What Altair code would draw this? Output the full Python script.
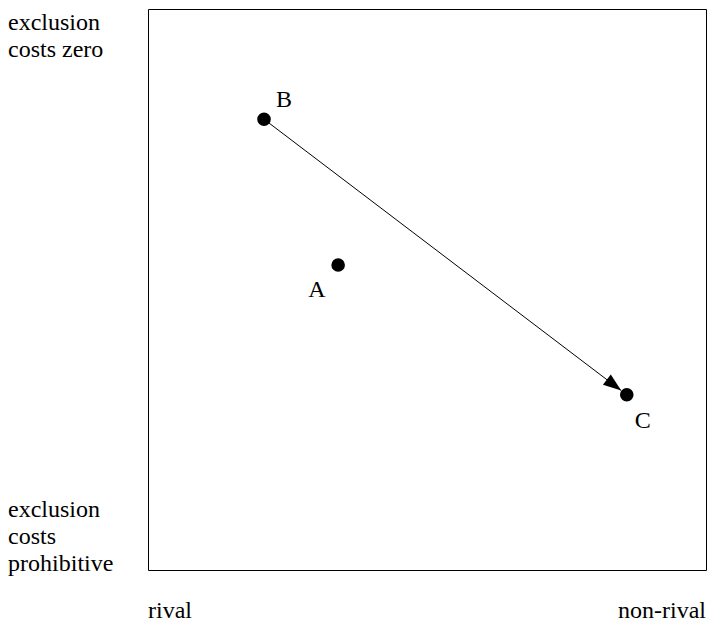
import math
import altair as alt
import pandas as pd

# ---- data (chart units: rivalry 0..10 left->right, excludability 0..10 bottom->top)
point_names = ["A", "B", "C"]
point_rivalry = [3.36, 2.05, 8.46]
point_exclusion = [5.38, 7.95, 3.09]

arrow_from = "B"
arrow_to = "C"

left_labels = ["exclusion\ncosts zero", "exclusion\ncosts\nprohibitive"]
left_label_y = [9.53, 0.93]
bottom_labels = ["rival", "non-rival"]

# ---- layout / style
W, H_PLOT = 558, 561
X_MAX, Y_MAX = 9.86, 9.894
PX_X, PX_Y = W / X_MAX, H_PLOT / Y_MAX
FONT = "Liberation Serif"
FS = 24
label_offsets = {"A": (-30, 32), "B": (12, -12), "C": (8, 33)}

pts = pd.DataFrame({"name": point_names, "x": point_rivalry, "y": point_exclusion})

xs = alt.Scale(domain=[0, X_MAX], nice=False, zero=False)
ys = alt.Scale(domain=[0, Y_MAX], nice=False, zero=False)

def X(field="x"):
    return alt.X(f"{field}:Q", scale=xs, axis=None)

def Y(field="y"):
    return alt.Y(f"{field}:Q", scale=ys, axis=None)

# arrow from B to C, ending at circle edge
i0, i1 = point_names.index(arrow_from), point_names.index(arrow_to)
x0, y0 = point_rivalry[i0], point_exclusion[i0]
x1, y1 = point_rivalry[i1], point_exclusion[i1]
dxp, dyp = (x1 - x0) * PX_X, -(y1 - y0) * PX_Y
L = math.hypot(dxp, dyp)
r = 7.0
tx = x1 - (dxp / L) * r / PX_X
ty = y1 + (dyp / L) * r / PX_Y
ang = math.degrees(math.atan2(dyp, dxp))

seg = pd.DataFrame({"x": [x0], "y": [y0], "x2": [tx], "y2": [ty]})
line = alt.Chart(seg).mark_rule(color="black", strokeWidth=1).encode(
    x=X(), y=Y(), x2="x2:Q", y2="y2:Q"
)
head = alt.Chart(pd.DataFrame({"x": [tx], "y": [ty]})).mark_point(
    shape="M0,0L-1,-0.36L-1,0.36Z", size=1296, filled=True, color="black",
    opacity=1, angle=ang, strokeWidth=0
).encode(x=X(), y=Y())

dots = alt.Chart(pts).mark_circle(size=185, color="black", opacity=1).encode(x=X(), y=Y())

layers = [line, head, dots]
for n in point_names:
    dx, dy = label_offsets[n]
    layers.append(
        alt.Chart(pts).transform_filter(alt.datum.name == n).mark_text(
            font=FONT, fontSize=FS, align="left", baseline="alphabetic",
            dx=dx, dy=dy, color="black"
        ).encode(x=X(), y=Y(), text="name:N")
    )

left_df = pd.DataFrame({"t": left_labels, "y": left_label_y, "x": [-2.473, -2.473]})
layers.append(
    alt.Chart(left_df).mark_text(
        font=FONT, fontSize=FS, align="left", baseline="alphabetic",
        lineBreak="\n", lineHeight=27, color="black"
    ).encode(x=X(), y=Y(), text="t:N")
)
bot_df = pd.DataFrame({"t": bottom_labels, "x": [0.0, X_MAX], "y": [-0.847, -0.847],
                       "a": ["left", "right"]})
layers.append(
    alt.Chart(bot_df).transform_filter(alt.datum.a == "left").mark_text(
        font=FONT, fontSize=FS, align="left", baseline="alphabetic", color="black"
    ).encode(x=X(), y=Y(), text="t:N")
)
layers.append(
    alt.Chart(bot_df).transform_filter(alt.datum.a == "right").mark_text(
        font=FONT, fontSize=FS, align="right", baseline="alphabetic", color="black"
    ).encode(x=X(), y=Y(), text="t:N")
)

chart = alt.layer(*layers).properties(
    width=W, height=H_PLOT, autosize="none",
    padding={"left": 140, "top": 1, "right": 1, "bottom": 53},
).configure_view(stroke="black", strokeWidth=1)

chart.save("out.html", embed_options={"renderer": "svg", "actions": False})
